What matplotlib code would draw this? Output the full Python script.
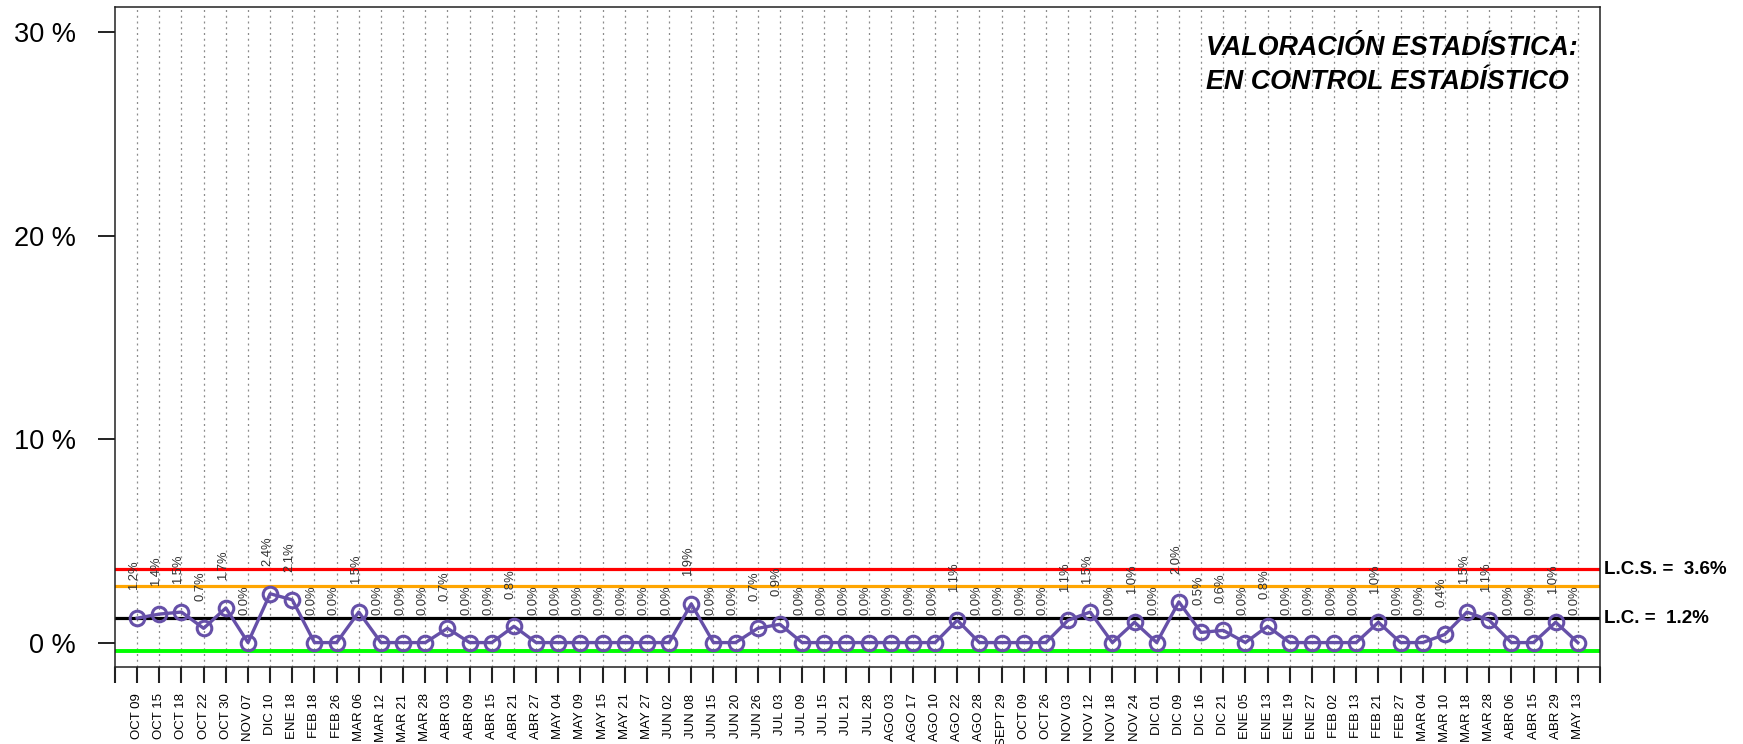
import matplotlib
matplotlib.use('Agg')
import matplotlib.pyplot as plt

# fechas de cada muestra y porcentaje observado
fechas = ['OCT 09', 'OCT 15', 'OCT 18', 'OCT 22', 'OCT 30', 'NOV 07', 'DIC 10', 'ENE 18',
          'FEB 18', 'FEB 26', 'MAR 06', 'MAR 12', 'MAR 21', 'MAR 28', 'ABR 03', 'ABR 09',
          'ABR 15', 'ABR 21', 'ABR 27', 'MAY 04', 'MAY 09', 'MAY 15', 'MAY 21', 'MAY 27',
          'JUN 02', 'JUN 08', 'JUN 15', 'JUN 20', 'JUN 26', 'JUL 03', 'JUL 09', 'JUL 15',
          'JUL 21', 'JUL 28', 'AGO 03', 'AGO 17', 'AGO 10', 'AGO 22', 'AGO 28', 'SEPT 29',
          'OCT 09', 'OCT 26', 'NOV 03', 'NOV 12', 'NOV 18', 'NOV 24', 'DIC 01', 'DIC 09',
          'DIC 16', 'DIC 21', 'ENE 05', 'ENE 13', 'ENE 19', 'ENE 27', 'FEB 02', 'FEB 13',
          'FEB 21', 'FEB 27', 'MAR 04', 'MAR 10', 'MAR 18', 'MAR 28', 'ABR 06', 'ABR 15',
          'ABR 29', 'MAY 13']
porcentajes = [1.2, 1.4, 1.5, 0.7, 1.7, 0.0, 2.4, 2.1, 0.0, 0.0, 1.5, 0.0, 0.0, 0.0, 0.7, 0.0,
               0.0, 0.8, 0.0, 0.0, 0.0, 0.0, 0.0, 0.0, 0.0, 1.9, 0.0, 0.0, 0.7, 0.9, 0.0, 0.0,
               0.0, 0.0, 0.0, 0.0, 0.0, 1.1, 0.0, 0.0, 0.0, 0.0, 1.1, 1.5, 0.0, 1.0, 0.0, 2.0,
               0.5, 0.6, 0.0, 0.8, 0.0, 0.0, 0.0, 0.0, 1.0, 0.0, 0.0, 0.4, 1.5, 1.1, 0.0, 0.0,
               1.0, 0.0]

# limites del grafico de control
lcs = 3.6      # limite de control superior
lvs = 2.8      # limite de vigilancia superior
lc = 1.2       # linea central
lci = -0.4     # limite inferior

y_ticks = [0, 10, 20, 30]

plt.rcParams['font.family'] = ['Liberation Sans', 'DejaVu Sans']

fig = plt.figure(figsize=(17.43, 7.44), dpi=100)
ax = fig.add_axes([115 / 1743., 77 / 744., 1485 / 1743., 660 / 744.])

n = len(fechas)
x = list(range(1, n + 1))

# rejilla vertical punteada en cada muestra
for xi in x:
    ax.axvline(xi, color='#8c8c8c', lw=0.9, ls=(0, (1.6, 3)), zorder=1)

ax.axhline(lcs, color='#ff0000', lw=2.3, zorder=2)
ax.axhline(lvs, color='#ffa500', lw=2.3, zorder=2)
ax.axhline(lc, color='black', lw=2.3, zorder=2)
ax.axhline(lci, color='#00ff00', lw=2.8, zorder=2)

ax.plot(x, porcentajes, color='#6650a8', lw=2.4, marker='o', ms=10.5,
        mfc='none', mec='#6650a8', mew=2.2, zorder=3)

# etiqueta con el valor encima de cada punto
for xi, v in zip(x, porcentajes):
    ax.annotate('%.1f%%' % v, xy=(xi, v), xytext=(0, 20), textcoords='offset points',
                rotation=90, rotation_mode='anchor', ha='left', va='baseline',
                fontsize=9.4, color='#333333', zorder=4)

ax.set_xlim(0, n + 1)
ax.set_ylim(-1.2, 31.23)

ax.set_xticks(list(range(0, n + 2)))
ax.set_xticklabels([''] + fechas + [''], rotation=90, fontsize=9.5, va='top')
ax.tick_params(axis='x', length=11.5, width=1.5, pad=7.5, color='#222222')

ax.set_yticks(y_ticks)
ax.set_yticklabels(['%d %%' % t for t in y_ticks], fontsize=19.5)
ax.tick_params(axis='y', length=12.2, width=1.4, pad=16, color='#222222')

for s in ax.spines.values():
    s.set_linewidth(1.1)
    s.set_color('#222222')

# etiquetas de los limites a la derecha
ax.annotate('L.C.S. =  %.1f%%' % lcs, xy=(1.0, lcs), xycoords=('axes fraction', 'data'),
            xytext=(3, 0), textcoords='offset points', ha='left', va='center',
            fontsize=13.5, fontweight='bold', annotation_clip=False)
ax.annotate('L.C. =  %.1f%%' % lc, xy=(1.0, lc), xycoords=('axes fraction', 'data'),
            xytext=(3, 0), textcoords='offset points', ha='left', va='center',
            fontsize=13.5, fontweight='bold', annotation_clip=False)

ax.text(0.7347, 0.927, 'VALORACIÓN ESTADÍSTICA:', transform=ax.transAxes,
        ha='left', va='baseline', fontsize=19.4, fontweight='bold', fontstyle='italic')
ax.text(0.7347, 0.876, 'EN CONTROL ESTADÍSTICO', transform=ax.transAxes,
        ha='left', va='baseline', fontsize=19.4, fontweight='bold', fontstyle='italic')

fig.savefig('out.png', dpi=100)
